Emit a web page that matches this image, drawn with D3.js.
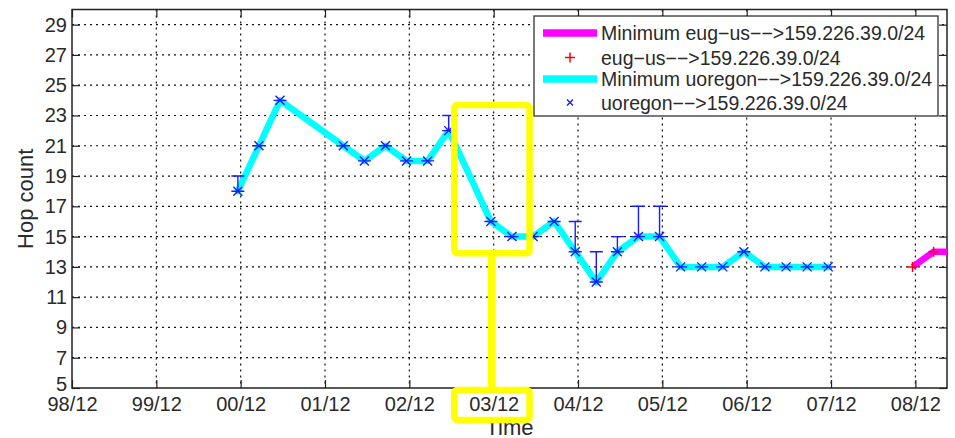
<!DOCTYPE html>
<html>
<head>
<meta charset="utf-8">
<script src="https://cdn.jsdelivr.net/npm/d3@7"></script>
<style>
  body { margin: 0; background: #fff; }
  text { font-family: "Liberation Sans", Arial, Helvetica, sans-serif; fill: #2a2a2a; }
</style>
</head>
<body>
<div id="chart"></div>
<script>
// x values are months counted from 98/12
const xTickMonths = [0, 12, 24, 36, 48, 60, 72, 84, 96, 108, 120];
const xTickLabels = ["98/12", "99/12", "00/12", "01/12", "02/12", "03/12", "04/12", "05/12", "06/12", "07/12", "08/12"];
const yTicks = [5, 7, 9, 11, 13, 15, 17, 19, 21, 23, 25, 27, 29];

// uoregon --> 159.226.39.0/24
const uoregonMonths = [23.6, 26.6, 29.6, 38.6, 41.6, 44.6, 47.6, 50.6, 53.6, 59.6, 62.6, 65.6, 68.6,
                       71.6, 74.6, 77.6, 80.6, 83.6, 86.6, 89.6, 92.6, 95.6, 98.6, 101.6, 104.6, 107.6];
const uoregonMin = [18, 21, 24, 21, 20, 21, 20, 20, 22, 16, 15, 15, 16,
                    14, 12, 14, 15, 15, 13, 13, 13, 14, 13, 13, 13, 13];
const uoregonMax = [19, 21, 24, 21, 20, 21, 20, 20, 23, 16, 15, 15, 16,
                    16, 14, 15, 17, 17, 13, 13, 13, 14, 13, 13, 13, 13];

// eug-us --> 159.226.39.0/24
const eugMonths = [119.6, 122.6, 125.6];
const eugMin = [13, 14, 14];

const legendLabels = [
  "Minimum eug\u2212us\u2212\u2212>159.226.39.0/24",
  "eug\u2212us\u2212\u2212>159.226.39.0/24",
  "Minimum uoregon\u2212\u2212>159.226.39.0/24",
  "uoregon\u2212\u2212>159.226.39.0/24"
];

// highlighted region (months / hop count)
const highlightMonths = [54.4, 65.1];
const highlightHops = [13.9, 23.7];
const highlightLinkMonth = 59.7;

const W = 955, H = 438;
const plot = { left: 72, right: 947, top: 9.5, bottom: 388 };

const svg = d3.select("#chart").append("svg")
    .attr("width", W)
    .attr("height", H);

const x = d3.scaleLinear().domain([0, 124.5]).range([plot.left, plot.right]);
const y = d3.scaleLinear().domain([5, 30]).range([plot.bottom, plot.top]);

svg.append("clipPath").attr("id", "clip")
  .append("rect")
    .attr("x", plot.left).attr("y", plot.top)
    .attr("width", plot.right - plot.left).attr("height", plot.bottom - plot.top);

// grid
const grid = svg.append("g").attr("stroke", "#111").attr("stroke-width", 1.2).attr("stroke-dasharray", "2,4");
grid.selectAll(".gx").data(xTickMonths.slice(1)).join("line")
    .attr("x1", d => x(d)).attr("x2", d => x(d))
    .attr("y1", plot.top).attr("y2", plot.bottom);
grid.selectAll(".gy").data(yTicks.slice(1)).join("line")
    .attr("x1", plot.left).attr("x2", plot.right)
    .attr("y1", d => y(d)).attr("y2", d => y(d));

// axes (ticks inside, like the original)
function styleAxis(g) {
  g.select(".domain").remove();
  g.selectAll(".tick line").attr("stroke", "#222").attr("stroke-width", 1.2);
  g.selectAll("text").attr("font-size", 20).attr("fill", "#2a2a2a")
    .attr("font-family", '"Liberation Sans", Arial, sans-serif');
}
svg.append("g").attr("transform", `translate(0,${plot.bottom})`)
    .call(d3.axisBottom(x).tickValues(xTickMonths).tickFormat((d, i) => xTickLabels[i])
      .tickSizeInner(-8).tickSizeOuter(0).tickPadding(9))
    .call(styleAxis);
svg.append("g").attr("transform", `translate(0,${plot.top})`)
    .call(d3.axisTop(x).tickValues(xTickMonths).tickFormat("").tickSizeInner(-8).tickSizeOuter(0))
    .call(styleAxis);
const yAxisG = svg.append("g").attr("transform", `translate(${plot.left},0)`)
    .call(d3.axisLeft(y).tickValues(yTicks).tickSizeInner(-8).tickSizeOuter(0).tickPadding(5))
    .call(styleAxis);
// bottom "5" sits a little higher, as in the original
yAxisG.selectAll(".tick").filter(d => d === 5).select("text").attr("dy", "0.1em");
svg.append("g").attr("transform", `translate(${plot.right},0)`)
    .call(d3.axisRight(y).tickValues(yTicks).tickFormat("").tickSizeInner(-8).tickSizeOuter(0))
    .call(styleAxis);

svg.append("rect")
    .attr("x", plot.left).attr("y", plot.top)
    .attr("width", plot.right - plot.left).attr("height", plot.bottom - plot.top)
    .attr("fill", "none").attr("stroke", "#222").attr("stroke-width", 1.5);

// axis labels
svg.append("text")
    .attr("x", (plot.left + plot.right) / 2).attr("y", 435)
    .attr("text-anchor", "middle").attr("font-size", 22)
    .text("Time");
svg.append("text")
    .attr("transform", `translate(32.5,${(plot.top + plot.bottom) / 2}) rotate(-90)`)
    .attr("text-anchor", "middle").attr("font-size", 22)
    .text("Hop count");

// data
const data = svg.append("g").attr("clip-path", "url(#clip)");
const line = d3.line().x(d => x(d[0])).y(d => y(d[1]));

const eug = eugMonths.map((m, i) => [m, eugMin[i]]);
const uo = uoregonMonths.map((m, i) => ({ m: m, lo: uoregonMin[i], hi: uoregonMax[i] }));

data.append("path").datum(eug)
    .attr("d", line).attr("fill", "none")
    .attr("stroke", "#ff00ff").attr("stroke-width", 6.5)
    .attr("stroke-linejoin", "round");
data.selectAll(".plus").data(eug).join("path")
    .attr("d", d => `M${x(d[0]) - 5},${y(d[1])}h10M${x(d[0])},${y(d[1]) - 5}v10`)
    .attr("stroke", "#ff0000").attr("stroke-width", 1.5);

data.append("path").datum(uo.map(d => [d.m, d.lo]))
    .attr("d", line).attr("fill", "none")
    .attr("stroke", "#00ffff").attr("stroke-width", 6.5)
    .attr("stroke-linejoin", "round").attr("stroke-linecap", "round");

const cap = 6.5;
const eb = data.append("g").attr("stroke", "#1a1aff").attr("stroke-width", 1.4).attr("fill", "none");
eb.selectAll(".bar").data(uo).join("path")
    .attr("d", d => {
      const cx = x(d.m), y0 = y(d.lo), y1 = y(d.hi);
      return `M${cx},${y0}V${y1}M${cx - cap},${y0}h${2 * cap}M${cx - cap},${y1}h${2 * cap}`;
    });
eb.selectAll(".mark").data(uo).join("path")
    .attr("d", d => {
      const cx = x(d.m), cy = y(d.lo), s = 4.5;
      return `M${cx - s},${cy - s}L${cx + s},${cy + s}M${cx - s},${cy + s}L${cx + s},${cy - s}`;
    });

// legend
const lg = svg.append("g");
lg.append("rect").attr("x", 534).attr("y", 16).attr("width", 404).attr("height", 100)
    .attr("fill", "#fff").attr("stroke", "#222").attr("stroke-width", 1.2);
const rowY = [33, 57.5, 79, 102.5];
lg.append("line").attr("x1", 543).attr("x2", 597).attr("y1", rowY[0]).attr("y2", rowY[0])
    .attr("stroke", "#ff00ff").attr("stroke-width", 7.5);
lg.append("path").attr("d", `M${565},${rowY[1]}h10M${570},${rowY[1] - 5}v10`)
    .attr("stroke", "#ff0000").attr("stroke-width", 1.5);
lg.append("line").attr("x1", 543).attr("x2", 597).attr("y1", rowY[2]).attr("y2", rowY[2])
    .attr("stroke", "#00ffff").attr("stroke-width", 7.5);
lg.append("path").attr("d", `M${567},${rowY[3] - 3}l6,6M${567},${rowY[3] + 3}l6,-6`)
    .attr("stroke", "#1a1aff").attr("stroke-width", 1.4);
lg.selectAll(".lt").data(legendLabels).join("text")
    .attr("x", 601).attr("y", (d, i) => rowY[i] + 7)
    .attr("font-size", 19.5)
    .text(d => d);

// yellow highlight
const hl = svg.append("g").attr("fill", "none").attr("stroke", "#ffff00").attr("stroke-width", 6.5);
hl.append("rect")
    .attr("x", x(highlightMonths[0])).attr("y", y(highlightHops[1]))
    .attr("width", x(highlightMonths[1]) - x(highlightMonths[0]))
    .attr("height", y(highlightHops[0]) - y(highlightHops[1]))
    .attr("rx", 3);
hl.append("rect")
    .attr("x", x(highlightMonths[0])).attr("y", y(5) + 2)
    .attr("width", x(highlightMonths[1]) - x(highlightMonths[0]))
    .attr("height", 30)
    .attr("rx", 3);
hl.append("line")
    .attr("x1", x(highlightLinkMonth)).attr("x2", x(highlightLinkMonth))
    .attr("y1", y(highlightHops[0])).attr("y2", y(5) + 2)
    .attr("stroke-width", 7.5);
</script>
</body>
</html>
